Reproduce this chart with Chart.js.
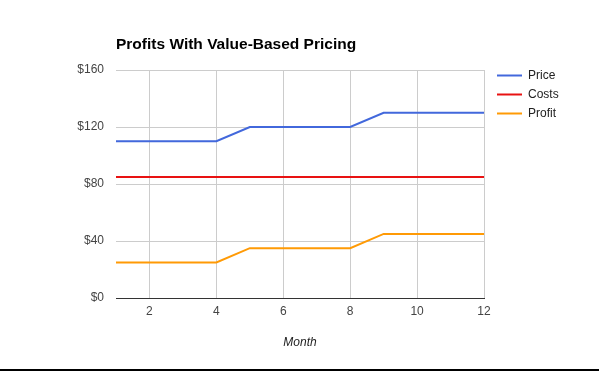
<!DOCTYPE html>
<html>
<head>
<meta charset="utf-8">
<script src="https://cdn.jsdelivr.net/npm/chart.js@4/dist/chart.umd.min.js"></script>
<style>
  html, body { margin: 0; padding: 0; background: #fff; }
  #wrap { width: 599px; height: 371px; position: relative; }
</style>
</head>
<body>
<div id="wrap"><canvas id="c" width="599" height="371"></canvas></div>
<script>
const chartTitle = 'Profits With Value-Based Pricing';
const xAxisTitle = 'Month';
const months = [1, 2, 3, 4, 5, 6, 7, 8, 9, 10, 11, 12];
const price  = [110, 110, 110, 110, 120, 120, 120, 120, 130, 130, 130, 130];
const costs  = [85, 85, 85, 85, 85, 85, 85, 85, 85, 85, 85, 85];
const profit = [25, 25, 25, 25, 35, 35, 35, 35, 45, 45, 45, 45];
const seriesNames = ['Price', 'Costs', 'Profit'];
const seriesColors = ['#4268dc', '#e81212', '#ff9a05'];
const yTicks = [0, 40, 80, 120, 160];

const FONT = "'Liberation Sans', Arial, sans-serif";
const toPts = arr => arr.map((v, i) => ({ x: months[i], y: v }));

const extras = {
  id: 'extras',
  afterDraw(chart) {
    const ctx = chart.ctx;
    const area = chart.chartArea;
    ctx.save();
    // title
    ctx.font = "bold 15.5px " + FONT;
    ctx.fillStyle = '#000';
    ctx.textAlign = 'left';
    ctx.textBaseline = 'alphabetic';
    ctx.fillText(chartTitle, area.left, 48.5);
    // legend
    ctx.font = "12px " + FONT;
    ctx.textBaseline = 'middle';
    chart.data.datasets.forEach((ds, i) => {
      const y = area.top + 5.5 + i * 19;
      ctx.strokeStyle = ds.borderColor;
      ctx.lineWidth = 2;
      ctx.beginPath();
      ctx.moveTo(area.right + 13, y);
      ctx.lineTo(area.right + 38, y);
      ctx.stroke();
      ctx.fillStyle = '#222';
      ctx.fillText(ds.label, area.right + 44, y);
    });
    // bottom rule
    ctx.fillStyle = '#000';
    ctx.fillRect(0, chart.height - 2, chart.width, 2);
    ctx.restore();
  }
};

new Chart(document.getElementById('c'), {
  type: 'line',
  data: {
    datasets: [price, costs, profit].map((arr, i) => ({
      label: seriesNames[i],
      data: toPts(arr),
      borderColor: seriesColors[i],
      backgroundColor: seriesColors[i],
      borderWidth: 2,
      pointRadius: 0,
      tension: 0,
      fill: false
    }))
  },
  options: {
    responsive: false,
    animation: false,
    layout: { padding: { left: 0, right: 115, top: 70, bottom: 17 } },
    plugins: { legend: { display: false }, title: { display: false }, tooltip: { enabled: false } },
    scales: {
      x: {
        type: 'linear',
        min: 1, max: 12,
        grid: { color: '#cccccc', drawTicks: false },
        border: { color: '#333333', width: 1 },
        ticks: { stepSize: 2, includeBounds: false, padding: 6, color: '#444', font: { family: FONT, size: 12 }, maxRotation: 0 },
        title: { display: true, text: xAxisTitle, color: '#222', font: { family: FONT, size: 12, style: 'italic' }, padding: { top: 4, bottom: 4 } },
        afterFit(s) { s.height = 56; }
      },
      y: {
        min: yTicks[0], max: yTicks[yTicks.length - 1],
        afterBuildTicks(s) { s.ticks = yTicks.map(v => ({ value: v })); },
        grid: { color: '#cccccc', drawTicks: false },
        border: { display: false },
        ticks: { padding: 12, color: '#444', font: { family: FONT, size: 12 }, callback: v => '$' + v },
        afterFit(s) { s.width = 116; }
      }
    }
  },
  plugins: [extras]
});
</script>
</body>
</html>
